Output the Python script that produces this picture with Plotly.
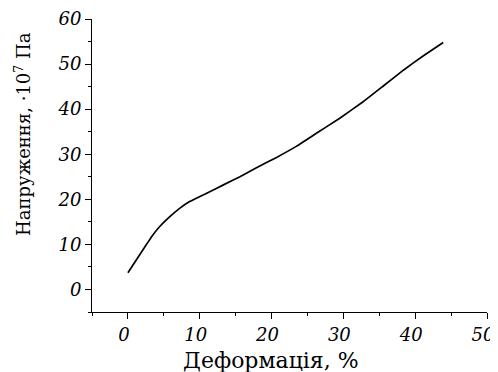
import plotly.graph_objects as go

strain = [0, 1.6, 3.3, 4.4, 5.8, 7.2, 8.6, 10.9, 13.3, 15.6, 17.9, 20.7, 23.5, 26.3, 29.5, 32.8, 35.6, 38.4, 41.1, 43.9]
stress = [3.7, 7.6, 11.7, 13.9, 16.1, 18.0, 19.5, 21.3, 23.2, 25.0, 27.0, 29.3, 31.8, 34.7, 38.0, 41.7, 45.2, 48.7, 51.8, 54.8]

x_ticks = [0, 10, 20, 30, 40, 50]
y_ticks = [0, 10, 20, 30, 40, 50, 60]

x_title = "Деформація, %"
y_title = "Напруження, ·10<sup>7</sup> Па"

serif = "DejaVu Serif"

fig = go.Figure()
fig.add_trace(go.Scatter(x=strain, y=stress, mode="lines",
                         line=dict(color="black", width=1.7, shape="spline", smoothing=0.3),
                         showlegend=False))

axis_common = dict(showline=True, linecolor="black", linewidth=1, ticks="outside",
                   ticklen=6, tickcolor="black", showgrid=False, zeroline=False, automargin=False,
                   ticklabeloverflow="allow",
                   tickfont=dict(family=serif, size=18, color="black", style="italic"),
                   minor=dict(ticks="outside", ticklen=3, dtick=5, tickcolor="black", showgrid=False))

fig.update_xaxes(range=[-5, 50], tickvals=x_ticks, ticktext=["<i>%d</i>" % v for v in x_ticks],
                 ticklabelshift=-4, **axis_common)
fig.update_yaxes(range=[-5, 60], tickvals=y_ticks, ticktext=["<i>%d</i>" % v for v in y_ticks],
                 **axis_common)

fig.add_annotation(text=x_title, xref="paper", yref="paper", x=0.453, y=-0.164,
                   xanchor="center", yanchor="middle", showarrow=False,
                   font=dict(family=serif, size=22, color="black"))
fig.add_annotation(text=y_title, xref="paper", yref="paper", x=-0.175, y=0.6075,
                   xanchor="center", yanchor="middle", showarrow=False, textangle=-90,
                   font=dict(family=serif, size=18, color="black"))

# the page body has an 8px margin, so the figure is sized and padded to fit the 498x372 window
fig.update_layout(width=490, height=364, margin=dict(l=84, r=11, t=11, b=60),
                  plot_bgcolor="white", paper_bgcolor="white")

fig.write_html("out.html")
